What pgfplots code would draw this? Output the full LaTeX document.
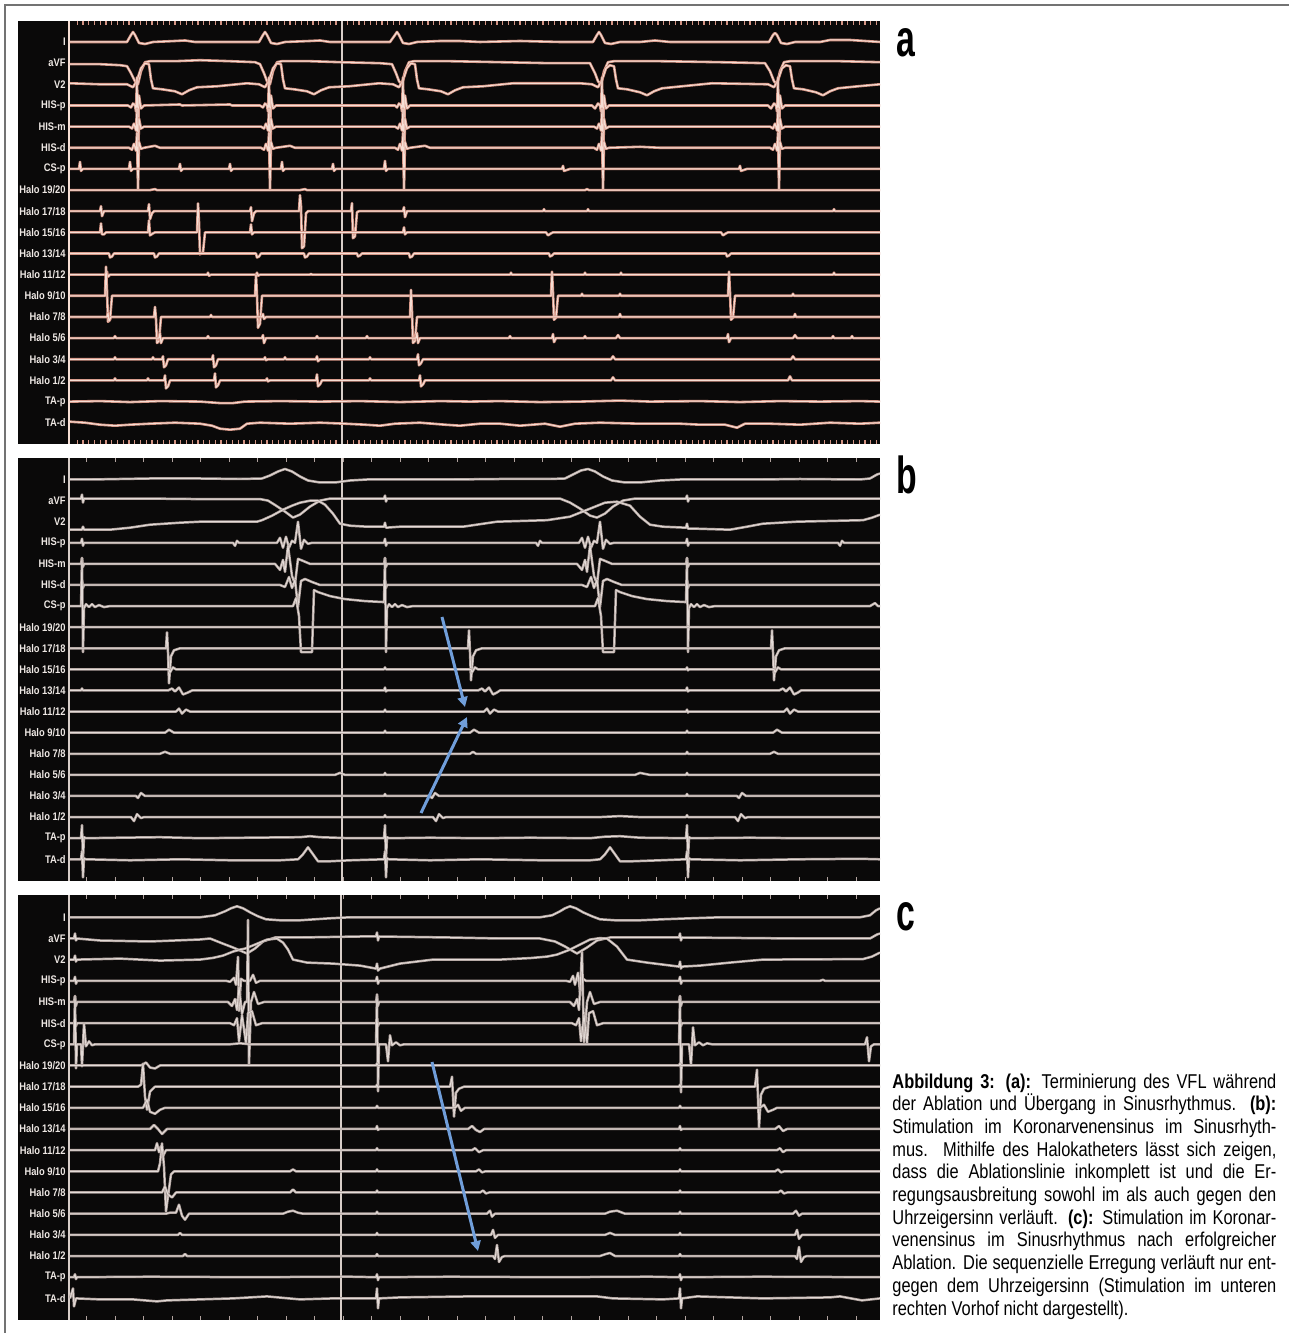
\documentclass[border=0pt]{standalone}
\usepackage{pgfplots}
\pgfplotsset{compat=1.18}
\usetikzlibrary{arrows.meta}
\usepackage{fontspec}
\setmainfont{Liberation Sans}
\newfontfamily\cond[FakeStretch=0.82]{Liberation Sans}
\newfontfamily\condlab[FakeStretch=0.85]{Liberation Sans}
\newfontfamily\condbig[FakeStretch=0.65]{Liberation Sans}
\definecolor{bgc}{RGB}{10,9,9}
\definecolor{aout}{RGB}{212,148,132}
\definecolor{ain}{RGB}{246,222,212}
\definecolor{bout}{RGB}{178,164,160}
\definecolor{bin}{RGB}{228,220,216}
\definecolor{vl}{RGB}{215,205,200}
\definecolor{arrowc}{RGB}{112,158,218}
\definecolor{framec}{RGB}{115,115,115}
\definecolor{labc}{RGB}{238,232,228}
\pgfplotsset{
  tr/.style={y filter/.expression={y-#1}},
  ta/.style={draw=ain, line width=0.5pt, line join=round, preaction={draw=aout, line width=1.3pt, line join=round}},
  tb/.style={draw=bin, line width=0.45pt, line join=round, preaction={draw=bout, line width=1.25pt, line join=round}},
  panel/.style={anchor=south west, scale only axis, width=431pt, xmin=18, xmax=880,
    axis line style={draw=none}, axis background/.style={fill=bgc}, ytick=\empty,
    xticklabels={}, tick align=inside, major tick length=2pt},
}
\begin{document}
\begin{tikzpicture}
\useasboundingbox (0,0) rectangle (644.5pt,666.5pt);
% ================= PANEL A =================
\begin{axis}[panel, at={(9pt,444.5pt)}, height=211.5pt, ymin=-444, ymax=-21,
  xtick={77.3,83.05,...,880}, tick style={draw=aout, line width=0.6pt}]
\addplot[draw=ain, line width=0.8pt] coordinates {(69,-21) (69,-444)};
\addplot[draw=vl, line width=0.7pt] coordinates {(342,-21) (342,-444)};
% I
\addplot[ta,tr=42] coordinates {(70,0) (120,0) (127,0) (131,7) (133,10) (135,7) (139,-1) (145,-2) (153,0) (175,1) (185,1.5) (195,0) (230,0) (259,0) (263,7) (265,10) (267,7) (271,-1) (277,-2) (285,0) (310,1) (320,1.5) (330,0) (390,0) (395,7) (397,10) (399,7) (403,-1) (409,-2) (417,0) (440,1) (460,1) (480,0) (520,1) (560,0) (593,0) (597,7) (599,10) (601,7) (605,-1) (611,-2) (620,0) (640,0) (655,1.5) (670,0) (720,0) (769,0) (773,7) (775,9) (777,7) (781,-1) (787,-2) (795,0) (820,0) (830,2) (850,2) (880,0)};
% aVF
\addplot[ta,tr=63.2] coordinates {(70,-1) (100,-1) (120,-2) (127,-3) (131,-10) (135,-18) (138,-21) (141,-8) (145,1) (150,2) (175,2) (200,3) (230,2) (255,1) (260,-1) (264,-10) (267,-18) (270,-21) (273,-8) (277,1) (282,2) (310,2) (340,1) (380,0) (392,-1) (396,-10) (399,-18) (402,-21) (405,-8) (409,1) (414,2) (450,2) (500,1) (550,0) (590,0) (595,-10) (598,-18) (601,-21) (604,-8) (608,1) (614,2) (660,2) (720,1) (765,0) (770,-8) (774,-18) (777,-21) (780,-8) (784,1) (790,2) (840,2) (880,1)};
% V2
\addplot[ta,tr=84.3] coordinates {(70,1) (100,0) (127,0) (133,-3) (137,4) (141,16) (145,21) (149,20) (151,5) (153,-4) (162,-5) (175,-7) (182,-10) (189,-6) (197,-3) (217,-2) (247,1) (259,0) (265,-3) (269,4) (273,16) (277,21) (281,20) (283,5) (285,-4) (294,-5) (307,-7) (314,-10) (321,-6) (329,-3) (349,-2) (379,1) (393,0) (399,-3) (403,4) (407,16) (411,21) (415,20) (417,5) (419,-4) (428,-5) (441,-7) (448,-10) (455,-6) (463,-3) (483,-2) (513,1) (550,1) (580,1) (592,0) (598,-3) (602,4) (606,16) (610,19) (614,18) (616,5) (618,-4) (627,-5) (640,-8) (647,-11) (654,-7) (662,-4) (682,-2) (712,1) (768,0) (774,-3) (778,4) (782,16) (786,19) (790,18) (792,5) (794,-4) (803,-5) (816,-8) (823,-11) (830,-7) (838,-4) (858,-2) (880,0)};
% HIS-p
\addplot[ta,tr=105.5] coordinates {(70,0) (100,0) (128,0) (131,-2) (133,2) (135,0) (136,-6) (137,28) (138,-34) (139,10) (141,-3) (144,0) (180,1) (182,0) (230,1) (232,0) (260,0) (263,-2) (265,2) (267,0) (268,-6) (269,28) (270,-34) (271,10) (273,-3) (276,0) (320,0) (395,0) (397,-2) (399,2) (401,0) (402,-6) (403,28) (404,-34) (405,10) (407,-3) (410,0) (500,0) (592,0) (595,-3) (598,2) (600,0) (601,-6) (602,28) (603,-34) (604,10) (606,-3) (609,0) (680,0) (768,0) (771,-3) (774,2) (776,0) (777,-6) (778,28) (779,-34) (780,10) (782,-3) (785,0) (880,0)};
% HIS-m
\addplot[ta,tr=126.6] coordinates {(70,0) (129,0) (132,-2) (134,3) (136,-4) (137,18) (138,-45) (139,8) (141,-2) (144,0) (261,0) (264,-2) (266,3) (268,-4) (269,18) (270,-45) (271,8) (273,-2) (276,0) (395,0) (398,-2) (400,3) (402,-4) (403,18) (404,-45) (405,8) (407,-2) (410,0) (594,0) (597,-2) (599,3) (601,-4) (602,18) (603,-45) (604,8) (606,-2) (609,0) (770,0) (773,-2) (775,3) (777,-4) (778,18) (779,-45) (780,8) (782,-2) (785,0) (880,0)};
% HIS-d
\addplot[ta,tr=147.8] coordinates {(70,0) (129,0) (132,-2) (134,4) (136,-3) (137,15) (138,-42) (139,6) (141,-1) (144,0) (155,2) (160,0) (261,0) (264,-2) (266,4) (268,-3) (269,15) (270,-42) (271,6) (273,-1) (276,0) (290,2) (295,0) (395,0) (398,-2) (400,4) (402,-3) (403,15) (404,-42) (405,6) (407,-1) (410,0) (425,2) (430,0) (594,0) (597,-2) (599,4) (601,-3) (602,15) (603,-42) (604,6) (606,-1) (609,0) (640,1) (660,0) (770,0) (773,-2) (775,4) (777,-3) (778,15) (779,-42) (780,6) (782,-1) (785,0) (880,0)};
% CS-p
\addplot[ta,tr=168.9] coordinates {(70,0) (79,0) (80,7) (81,-2) (83,0) (129,0) (130,7) (131,-2) (133,0) (179,0) (180,5) (181,-2) (183,0) (229,0) (230,5) (231,-2) (233,0) (281,0) (282,7) (283,-2) (285,0) (332,0) (333,5) (334,-2) (336,0) (384,0) (385,8) (386,-2) (388,0) (562,0) (563,3) (564,-2) (567,-1) (570,0) (739,0) (740,3) (741,-2) (744,-1) (747,0) (880,0)};
% Halo 19/20
\addplot[ta,tr=190.1] coordinates {(70,0) (150,0) (155,1) (157,0) (300,0) (305,1) (307,0) (585,0) (587,1) (589,0) (880,0)};
% Halo 17/18
\addplot[ta,tr=211.2] coordinates {(70,0) (100,0) (101,5) (102,-5) (104,0) (148,0) (149,7) (150,-8) (152,-2) (154,0) (250,0) (251,4) (252,-10) (254,-2) (256,0) (299,0) (300,16) (301,5) (302,-37) (304,-35) (306,-2) (308,0) (351,0) (352,8) (353,-27) (355,-25) (357,-1) (359,0) (403,0) (404,4) (405,-6) (407,0) (543,0) (544,2) (545,0) (587,0) (588,2) (589,0) (833,0) (834,2) (835,0) (880,0)};
% Halo 15/16
\addplot[ta,tr=232.4] coordinates {(70,0) (100,0) (101,9) (102,-2) (104,-2) (106,0) (148,0) (149,12) (150,-3) (153,-1) (155,0) (197,0) (198,29) (199,10) (200,-22) (203,-20) (205,0) (250,0) (251,8) (252,-2) (254,0) (403,0) (404,5) (405,-2) (407,0) (546,0) (548,-3) (551,-1) (553,0) (721,0) (723,-3) (726,-1) (728,0) (880,0)};
% Halo 13/14
\addplot[ta,tr=253.5] coordinates {(70,0) (109,0) (110,-4) (112,-3) (114,0) (154,0) (155,-4) (157,-3) (159,0) (256,0) (257,-4) (259,-3) (261,0) (304,0) (305,-4) (307,-3) (309,0) (357,0) (358,-3) (360,-2) (362,0) (409,0) (410,-4) (412,-3) (414,0) (549,0) (550,-3) (552,-2) (554,0) (726,0) (727,-3) (729,-2) (731,0) (880,0)};
% Halo 11/12
\addplot[ta,tr=274.7] coordinates {(70,0) (106,0) (107,3) (108,-2) (110,0) (207,0) (208,2) (209,-1) (211,0) (256,0) (257,2) (258,-1) (260,0) (310,0) (311,1) (312,0) (510,0) (511,2) (512,0) (584,0) (585,2) (586,0) (620,0) (621,2) (622,0) (833,0) (834,2) (835,0) (880,0)};
% Halo 9/10
\addplot[ta,tr=295.8] coordinates {(70,0) (105,0) (106,29) (107,5) (108,-26) (110,-24) (112,0) (255,0) (256,21) (257,0) (258,-32) (260,-28) (262,0) (551,0) (552,24) (553,3) (554,-24) (556,-22) (558,0) (581,0) (582,2) (583,0) (619,0) (620,2) (621,0) (728,0) (729,24) (730,3) (731,-24) (733,-22) (735,0) (792,0) (793,2) (794,0) (880,0)};
% Halo 7/8
\addplot[ta,tr=317] coordinates {(70,0) (107,0) (108,4) (109,-4) (111,0) (154,0) (155,10) (156,-2) (157,-26) (159,-24) (161,0) (210,0) (211,2) (212,0) (262,0) (263,3) (264,-2) (266,0) (410,0) (411,27) (412,5) (413,-26) (415,-24) (417,0) (619,0) (620,3) (621,0) (794,0) (795,3) (796,0) (880,0)};
% Halo 5/6
\addplot[ta,tr=338.1] coordinates {(70,0) (114,0) (115,2) (116,0) (159,0) (160,5) (161,-5) (163,0) (207,0) (208,2) (209,0) (262,0) (263,3) (264,-5) (266,0) (316,0) (317,2) (318,0) (366,0) (367,2) (368,0) (416,0) (417,5) (418,-5) (420,0) (509,0) (510,2) (511,0) (552,0) (553,4) (554,-4) (556,0) (584,0) (585,2) (586,0) (616,0) (618,3) (620,0) (727,0) (728,4) (729,-4) (731,0) (793,0) (795,3) (797,0) (832,0) (833,2) (834,0) (851,0) (852,2) (853,0) (880,0)};
% Halo 3/4
\addplot[ta,tr=359.3] coordinates {(70,0) (114,0) (115,2) (116,0) (152,0) (153,2) (154,0) (162,0) (163,3) (164,-8) (166,-6) (168,0) (212,0) (213,4) (214,-8) (216,-6) (218,0) (264,0) (265,2) (266,-1) (268,0) (284,0) (285,2) (286,0) (316,0) (317,3) (318,-2) (320,0) (369,0) (370,2) (371,0) (417,0) (418,5) (419,-6) (421,-4) (423,0) (611,0) (613,3) (615,0) (791,0) (793,3) (795,0) (880,0)};
% Halo 1/2
\addplot[ta,tr=380.4] coordinates {(70,0) (114,0) (115,2) (116,0) (147,0) (148,2) (149,0) (164,0) (165,5) (166,-8) (168,-6) (170,0) (214,0) (215,7) (216,-7) (218,-5) (220,0) (266,0) (267,2) (268,-1) (270,0) (316,0) (317,6) (318,-6) (320,-4) (322,0) (369,0) (370,2) (371,0) (419,0) (420,5) (421,-6) (423,-4) (425,0) (611,0) (613,3) (615,0) (788,0) (790,4) (792,0) (880,0)};
% TA-p
\addplot[ta,tr=401.6] coordinates {(70,0) (100,0.5) (130,-0.5) (160,0.5) (200,0) (220,-1.5) (233,-1.5) (245,0) (280,0.5) (320,0) (360,0.5) (400,-0.5) (440,0.5) (470,0) (500,0.5) (540,-0.5) (580,0) (620,1) (650,0) (700,0.5) (740,-0.5) (780,0.5) (820,0) (860,0.5) (880,0)};
% TA-d
\addplot[ta,tr=422.7] coordinates {(70,1) (85,0) (100,-2) (115,-3) (130,-2) (150,-1) (175,0) (200,-1) (212,-3) (220,-6) (230,-7) (240,-6) (247,-1) (260,0) (290,-1) (320,0) (345,-1) (365,-2) (380,-3) (395,-1) (420,0) (445,-2) (460,-3) (480,-1) (500,-1) (520,-3) (545,-1) (560,-4) (575,-1) (600,0) (640,-1) (680,-1) (700,-2) (725,-2) (737,-5) (745,-1) (770,-1) (800,-2) (830,0) (860,-1) (880,0)};
\end{axis}
% ================= PANEL B =================
\begin{axis}[panel, at={(9pt,226pt)}, height=211.5pt, ymin=-881, ymax=-458,
  xtick={86.7,115.2,...,880}, tick style={draw=bout, line width=0.7pt}]
\addplot[draw=vl, line width=0.8pt] coordinates {(69,-458) (69,-881)};
\addplot[draw=vl, line width=0.7pt] coordinates {(342,-458) (342,-881)};
% I
\addplot[tb,tr=479.5] coordinates {(70,0) (90,0) (150,1) (200,1) (240,0.5) (262,1) (270,4) (278,8) (285,10.5) (292,8) (300,3) (308,-1) (320,-3) (335,-3) (350,-1) (367,0) (450,0) (500,0.5) (550,0.5) (565,1) (573,5) (581,9) (588,10.5) (595,8) (603,3) (612,-1) (625,-3) (640,-3) (660,-1) (680,0) (760,0) (800,0.5) (860,0) (870,1) (877,5) (880,6)};
% aVF
\addplot[tb,tr=500.6] coordinates {(70,2) (81,2) (82,6) (83,-2) (84,2) (150,2) (200,1.5) (260,1.5) (268,0) (276,-5) (285,-11) (293,-17) (300,-14) (310,-6) (320,0) (330,2) (384,2) (385,5) (386,-1) (387,2) (450,2) (560,2) (570,-2) (580,-8) (590,-15) (597,-17) (605,-13) (613,-6) (623,0) (635,2) (686,2) (687,5) (688,-1) (689,2) (800,2) (880,2)};
% V2
\addplot[tb,tr=521.7] coordinates {(70,-8) (82,-8) (83,-5) (84,-8) (110,-8) (130,-6) (150,-3) (180,-1) (200,0) (257,0) (262,1.5) (272,6) (283,12) (292,16) (300,19) (310,21) (318,21) (325,17) (333,8) (340,-2) (350,-4) (367,-5) (384,-5) (385,-1) (386,-6) (400,-5) (430,-5) (463,-5) (497,0) (547,1.5) (570,5) (580,9) (590,13) (605,19) (617,20) (630,16) (640,5) (650,-3) (663,-5) (686,-6) (687,-2) (688,-7) (697,-7) (730,-8) (747,-5) (763,-2) (797,0) (863,1.5) (872,4) (880,7)};
% HIS-p
\addplot[tb,tr=542.8] coordinates {(70,0) (81,0) (82,4) (83,-3) (84,0) (233,0) (235,-3) (237,2) (239,0) (277,0) (280,5) (283,-5) (286,6) (289,-5) (292,2) (295,0) (298,21) (301,-6) (304,3) (308,-1) (312,0) (384,0) (385,4) (386,-3) (387,0) (536,0) (538,-3) (540,2) (542,0) (579,0) (582,5) (585,-5) (588,6) (591,-5) (594,2) (597,0) (600,21) (603,-6) (606,3) (610,-1) (614,0) (686,0) (687,4) (688,-3) (689,0) (838,0) (840,-3) (842,2) (844,0) (880,0)};
% HIS-m
\addplot[tb,tr=563.9] coordinates {(70,0) (81,0) (82,6) (83,-3) (84,0) (275,0) (280,-6) (283,4) (285,-8) (288,18) (292,-12) (295,-20) (298,5) (303,3) (310,0) (384,0) (385,6) (386,-3) (387,0) (577,0) (582,-6) (585,4) (587,-8) (590,18) (594,-12) (597,-20) (600,5) (605,3) (612,0) (686,0) (687,6) (688,-3) (689,0) (880,0)};
% HIS-d
\addplot[tb,tr=585] coordinates {(70,0) (81,0) (82,5) (83,-3) (84,0) (280,0) (285,-2) (289,8) (292,-3) (295,5) (298,-22) (301,4) (305,6) (312,3) (320,0) (384,0) (385,5) (386,-3) (387,0) (582,0) (587,-2) (591,8) (594,-3) (597,5) (600,-22) (603,4) (607,6) (614,3) (622,0) (686,0) (687,5) (688,-3) (689,0) (880,0)};
% CS-p
\addplot[tb,tr=606.1] coordinates {(70,0) (81,0) (82,48) (83,-46) (84,-2) (86,2) (89,-1) (92,2) (95,-1) (99,1) (104,-1) (110,0) (150,0) (200,0) (270,0) (293,0) (296,8) (299,-10) (301,-46) (312,-46) (314,16) (318,14) (330,10) (345,7) (365,5) (384,4) (385,48) (386,-46) (387,-2) (389,2) (392,-1) (395,2) (398,-1) (402,1) (407,-1) (413,0) (450,0) (500,0) (595,0) (598,8) (601,-10) (603,-46) (614,-46) (616,16) (620,14) (632,10) (647,7) (667,5) (686,4) (687,48) (688,-46) (689,-2) (691,2) (694,-1) (697,2) (700,-1) (704,1) (709,-1) (715,0) (800,0) (870,0) (875,3) (878,0) (880,0)};
% Halo 19/20
\addplot[tb,tr=627.2] coordinates {(70,0) (82,0) (83,1) (84,0) (385,0) (386,1) (387,0) (687,0) (688,1) (689,0) (880,0)};
% Halo 17/18
\addplot[tb,tr=648.3] coordinates {(70,0) (166,0) (167,16) (168,-4) (169,-35) (171,-8) (174,-2) (180,0) (468,0) (469,18) (470,-4) (471,-32) (473,-8) (476,-2) (482,0) (771,0) (772,18) (773,-4) (774,-32) (776,-8) (779,-2) (785,0) (880,0)};
% Halo 15/16
\addplot[tb,tr=669.4] coordinates {(70,0) (169,0) (170,-3) (173,2) (176,0) (384,0) (385,2) (386,0) (471,0) (472,-3) (475,2) (478,0) (686,0) (687,2) (688,-1) (689,0) (774,0) (775,-3) (778,2) (781,0) (880,0)};
% Halo 13/14
\addplot[tb,tr=690.5] coordinates {(70,0) (81,0) (82,2) (83,0) (168,0) (172,2) (175,-1) (179,3) (183,-4) (188,-2) (192,0) (384,0) (385,3) (386,-1) (387,0) (478,0) (482,2) (485,-1) (489,3) (493,-4) (497,-2) (500,0) (686,0) (687,3) (688,-1) (689,0) (779,0) (783,2) (786,-1) (790,3) (794,-4) (798,-2) (801,0) (880,0)};
% Halo 11/12
\addplot[tb,tr=711.6] coordinates {(70,0) (176,0) (179,3) (182,-2) (186,2) (190,0) (384,0) (385,2) (386,0) (484,0) (487,3) (490,-2) (494,2) (498,0) (686,0) (687,2) (688,-1) (689,0) (784,0) (787,3) (790,-2) (794,2) (798,0) (880,0)};
% Halo 9/10
\addplot[tb,tr=732.7] coordinates {(70,0) (165,0) (169,3) (174,0) (384,0) (385,2) (386,0) (470,0) (474,3) (479,0) (686,0) (687,2) (688,0) (773,0) (777,3) (782,0) (880,0)};
% Halo 7/8
\addplot[tb,tr=753.8] coordinates {(70,0) (160,0) (165,2) (170,0) (470,0) (473,2) (476,0) (686,0) (687,2) (688,0) (770,0) (774,2) (778,0) (880,0)};
% Halo 5/6
\addplot[tb,tr=774.9] coordinates {(70,0) (335,0) (340,2) (345,0) (384,0) (385,2) (386,0) (635,0) (640,2) (645,1) (650,0) (686,0) (687,2) (688,0) (880,0)};
% Halo 3/4
\addplot[tb,tr=796] coordinates {(70,0) (136,0) (138,-2) (141,3) (145,0) (384,0) (385,2) (386,0) (430,0) (432,-2) (435,3) (439,0) (686,0) (687,2) (688,0) (737,0) (739,-2) (742,3) (746,0) (880,0)};
% Halo 1/2
\addplot[tb,tr=817.1] coordinates {(70,0) (131,0) (134,-4) (137,3) (141,-1) (144,0) (384,0) (385,2) (386,0) (433,0) (436,-4) (439,3) (443,-1) (446,0) (600,0) (620,1) (640,0) (686,0) (687,2) (688,0) (735,0) (738,-4) (741,3) (745,-1) (748,0) (880,0)};
% TA-p
\addplot[tb,tr=838.2] coordinates {(70,0) (81,0) (82,13) (83,-21) (84,1) (86,0) (120,0.5) (160,1) (200,0) (250,0.5) (300,1) (310,2) (320,1) (350,0) (384,0) (385,13) (386,-21) (387,1) (389,0) (430,0.5) (480,0) (530,0.5) (590,0) (605,1.5) (620,2) (640,0.5) (686,0) (687,13) (688,-21) (689,1) (691,0) (750,0.5) (800,0) (880,0)};
% TA-d
\addplot[tb,tr=859.3] coordinates {(70,0) (81,0) (82,8) (83,-18) (84,1) (86,0) (130,-1) (180,0) (230,-1) (280,-1) (298,0) (303,5) (308,12) (313,5) (318,-2) (330,-2) (350,-1) (384,0) (385,8) (386,-18) (387,1) (389,0) (430,-1) (480,0) (540,-1) (590,-1) (600,0) (605,5) (610,12) (615,5) (620,-2) (632,-2) (660,-1) (686,0) (687,8) (688,-18) (689,1) (691,0) (740,-1) (800,0) (860,0.5) (880,0)};
% arrows
\addplot[draw=arrowc, line width=1.5pt, -{Triangle[length=5pt,width=5pt]}] coordinates {(442,-617) (465,-707)};
\addplot[draw=arrowc, line width=1.5pt, -{Triangle[length=5pt,width=5pt]}] coordinates {(421,-813) (467,-717)};
\end{axis}
% ================= PANEL C =================
\begin{axis}[panel, at={(9pt,6.5pt)}, height=212.5pt, ymin=-1320, ymax=-895,
  xtick={86.7,115.2,...,880}, tick style={draw=bout, line width=0.7pt}]
\addplot[draw=vl, line width=0.8pt] coordinates {(69,-895) (69,-1320)};
\addplot[draw=vl, line width=0.7pt] coordinates {(341,-895) (341,-1320)};
% I
\addplot[tb,tr=917.3] coordinates {(70,0) (200,0) (215,2) (225,6) (231,9) (237,11) (243,9) (250,5) (258,1) (266,-2) (280,-3) (300,-3) (330,-1) (350,0) (540,0) (552,2) (560,6) (565,9) (570,11) (576,9) (583,5) (592,1) (600,-2) (615,-3) (640,-3) (663,-2) (690,-1) (720,0) (860,0) (870,2) (876,7) (880,9)};
% aVF
\addplot[tb,tr=938.5] coordinates {(70,0) (74,0) (75,5) (76,-2) (77,0) (100,-2) (150,-3) (200,-1) (210,0) (220,-4) (233,-9) (247,-15) (255,-10) (263,-3) (275,1) (300,1) (360,2) (376,2) (377,6) (378,-2) (379,2) (450,1) (500,0) (540,0) (555,-3) (565,-8) (577,-15) (587,-9) (597,-2) (610,1) (679,1) (680,5) (681,-2) (682,1) (800,0) (870,0) (877,4) (880,5)};
% V2
\addplot[tb,tr=959.6] coordinates {(70,0) (74,0) (75,4) (76,-2) (77,0) (120,1) (160,-1) (200,0) (213,1.7) (223,4) (233,8) (240,10) (245,11) (255,15) (267,20) (277,21) (283,17) (288,10) (293,0) (307,-3) (333,-4) (360,-6) (376,-9) (377,-4) (378,-11) (380,-9) (400,-4) (433,0) (500,0) (530,1.5) (547,3) (557,5) (570,10) (580,15) (590,20) (600,21.5) (607,21) (617,13) (627,0) (647,-3) (679,-7) (680,-2) (681,-9) (682,-7) (700,-6) (730,-3) (763,0) (863,0.5) (872,3) (880,7)};
% HIS-p
\addplot[tb,tr=980.8] coordinates {(70,0) (74,0) (75,4) (76,-3) (77,0) (226,0) (230,-1) (234,3) (236,-4) (238,24) (239,-30) (241,2) (244,0) (250,0) (253,6) (256,-2) (260,0) (376,0) (377,4) (378,-3) (379,0) (566,0) (570,-1) (573,5) (575,-4) (578,8) (580,-11) (583,2) (586,0) (679,0) (680,4) (681,-3) (682,0) (820,0) (823,1) (825,0) (880,0)};
% HIS-m
\addplot[tb,tr=1002] coordinates {(70,0) (74,0) (75,6) (76,-4) (77,0) (228,0) (232,-4) (235,3) (237,-8) (239,15) (242,-12) (245,0) (247,0) (248,82) (249,-63) (251,0) (254,10) (258,-2) (264,0) (376,0) (377,6) (378,-4) (379,0) (570,0) (574,-4) (577,3) (579,-8) (582,50) (584,-40) (587,0) (590,10) (594,-2) (600,0) (679,0) (680,6) (681,-4) (682,0) (880,0)};
% HIS-d
\addplot[tb,tr=1023.2] coordinates {(70,0) (74,0) (75,4) (76,-3) (77,0) (230,0) (234,-2) (237,5) (239,-18) (242,8) (246,-20) (248,10) (252,12) (256,-2) (262,0) (376,0) (377,4) (378,-3) (379,0) (572,0) (576,-2) (579,5) (581,-18) (584,8) (587,-20) (589,10) (593,12) (597,-2) (603,0) (679,0) (680,4) (681,-3) (682,0) (880,0)};
% CS-p
\addplot[tb,tr=1044.3] coordinates {(70,0) (74,0) (75,48) (76,-24) (77,0) (81,0) (82,-22) (84,21) (86,-2) (89,3) (92,-1) (95,0) (150,0) (230,0) (240,1) (250,0) (376,0) (377,50) (378,-47) (379,0) (386,0) (388,-17) (390,9) (392,-1) (396,2) (400,-1) (404,0) (679,0) (680,48) (681,-48) (682,0) (689,0) (691,-21) (693,17) (695,-1) (699,2) (703,-1) (707,1) (712,0) (865,0) (867,7) (869,-17) (871,-2) (874,0) (880,0)};
% Halo 19/20
\addplot[tb,tr=1065.5] coordinates {(70,0) (140,0) (143,1) (146,3) (150,-2) (155,-3) (160,0) (376,0) (377,2) (378,0) (679,0) (680,2) (681,0) (880,0)};
% Halo 17/18
\addplot[tb,tr=1086.7] coordinates {(70,0) (138,0) (141,2) (143,23) (145,-10) (147,-23) (150,-5) (155,0) (376,0) (377,2) (378,-1) (379,0) (450,0) (452,10) (454,-30) (456,-6) (459,-2) (464,0) (679,0) (680,2) (681,-1) (682,0) (755,0) (757,17) (759,-41) (761,-8) (764,-2) (770,0) (880,0)};
% Halo 15/16
\addplot[tb,tr=1107.8] coordinates {(70,0) (143,0) (147,8) (150,-4) (155,-6) (160,-2) (165,0) (376,0) (377,2) (378,0) (455,0) (458,3) (461,-3) (465,0) (679,0) (680,2) (681,0) (760,0) (764,3) (768,-4) (773,-2) (777,0) (880,0)};
% Halo 13/14
\addplot[tb,tr=1129] coordinates {(70,0) (150,0) (154,4) (158,0) (162,-5) (167,0) (376,0) (377,3) (378,-1) (379,0) (468,0) (472,3) (476,-1) (480,-3) (484,0) (679,0) (680,3) (681,-1) (682,0) (775,0) (779,3) (783,-2) (787,0) (880,0)};
% Halo 11/12
\addplot[tb,tr=1150.2] coordinates {(70,0) (155,0) (157,7) (159,-2) (161,4) (163,-6) (166,0) (376,0) (377,2) (378,0) (472,0) (475,2) (479,-2) (483,0) (679,0) (680,2) (681,0) (777,0) (780,2) (783,-2) (786,0) (880,0)};
% Halo 9/10
\addplot[tb,tr=1171.4] coordinates {(70,0) (158,0) (160,8) (162,28) (164,5) (166,-40) (168,-25) (171,-3) (174,0) (290,0) (293,2) (296,0) (376,0) (377,2) (378,0) (476,0) (479,2) (482,-1) (485,0) (679,0) (680,2) (681,0) (775,0) (778,2) (781,-1) (784,0) (880,0)};
% Halo 7/8
\addplot[tb,tr=1192.5] coordinates {(70,0) (162,0) (165,6) (168,-2) (172,-5) (176,0) (290,0) (293,3) (296,0) (376,0) (377,2) (378,0) (480,0) (483,2) (486,-1) (489,0) (679,0) (680,2) (681,0) (778,0) (781,2) (784,-1) (787,0) (880,0)};
% Halo 5/6
\addplot[tb,tr=1213.7] coordinates {(70,0) (166,0) (170,1) (176,1) (179,9) (182,-2) (185,-6) (189,0) (283,0) (288,2) (293,3) (298,1) (303,0) (376,0) (377,2) (378,0) (487,0) (490,3) (492,-3) (495,0) (605,0) (610,2) (617,3) (625,0) (679,0) (680,2) (681,0) (793,0) (796,3) (799,-2) (802,0) (880,0)};
% Halo 3/4
\addplot[tb,tr=1234.9] coordinates {(70,0) (178,0) (180,2) (182,0) (376,0) (377,2) (378,0) (491,0) (493,5) (495,-3) (498,0) (605,0) (610,2) (615,0) (679,0) (680,2) (681,0) (795,0) (797,5) (799,-4) (802,0) (880,0)};
% Halo 1/2
\addplot[tb,tr=1256] coordinates {(70,0) (183,0) (185,2) (187,0) (376,0) (377,2) (378,0) (493,0) (495,-3) (497,11) (499,-6) (502,-1) (505,0) (600,0) (606,2) (610,3) (615,0) (679,0) (680,2) (681,0) (795,0) (797,-3) (799,9) (801,-6) (804,-1) (807,0) (880,0)};
% TA-p
\addplot[tb,tr=1277.2] coordinates {(70,0) (74,0) (75,3) (76,-2) (77,0) (150,0.5) (250,0) (350,0.5) (376,0) (377,3) (378,-3) (379,0) (450,0.5) (550,0) (650,0.5) (679,0) (680,3) (681,-3) (682,0) (760,0.5) (880,0)};
% TA-d
\addplot[tb,tr=1298.4] coordinates {(70,0) (73,10) (74,-8) (76,0) (100,-1) (133,-1) (157,-3) (167,-2) (200,-1) (233,0) (267,2) (300,-1) (333,0) (376,0) (377,10) (378,-10) (379,0) (400,1) (470,2) (520,2) (597,2) (613,0) (663,-1) (679,0) (680,10) (681,-10) (682,0) (697,2) (763,0) (830,1) (840,2) (862,-2) (880,0)};
% arrow
\addplot[draw=arrowc, line width=1.5pt, -{Triangle[length=5pt,width=5pt]}] coordinates {(432,-1062) (478,-1251)};
\end{axis}
% ================= TEXT & FRAME =================
\begin{scope}[x=0.5pt,y=-0.5pt,shift={(0pt,666.5pt)}]
\draw[framec, line width=0.9pt] (5,1333) -- (5,5) -- (1289,5);
\foreach \lab [count=\i from 0] in {I,aVF,V2,HIS-p,HIS-m,HIS-d,CS-p,Halo 19/20,Halo 17/18,Halo 15/16,Halo 13/14,Halo 11/12,Halo 9/10,Halo 7/8,Halo 5/6,Halo 3/4,Halo 1/2,TA-p,TA-d}{
  \node[anchor=east, inner sep=0pt, text=labc, font=\condlab\bfseries\fontsize{5.5}{6}\selectfont] at (66,42+21.15*\i) {\lab};
  \node[anchor=east, inner sep=0pt, text=labc, font=\condlab\bfseries\fontsize{5.5}{6}\selectfont] at (66,479.5+21.1*\i) {\lab};
  \node[anchor=east, inner sep=0pt, text=labc, font=\condlab\bfseries\fontsize{5.5}{6}\selectfont] at (66,917.3+21.17*\i) {\lab};
}
\node[anchor=base west, inner sep=0pt, font=\condbig\bfseries\fontsize{26}{26}\selectfont] at (896,56.7) {a};
\node[anchor=base west, inner sep=0pt, font=\condbig\bfseries\fontsize{26}{26}\selectfont] at (896,493.5) {b};
\node[anchor=base west, inner sep=0pt, font=\condbig\bfseries\fontsize{26}{26}\selectfont] at (896,930.5) {c};
\node[anchor=base west, inner sep=0pt, align=left, font=\cond\fontsize{10}{11.35}\selectfont] at (892,1315) {%
\makebox[192pt][s]{\textbf{Abbildung 3: (a):} Terminierung des VFL während}\\
\makebox[192pt][s]{der Ablation und Übergang in Sinusrhythmus. \textbf{(b):}}\\
\makebox[192pt][s]{Stimulation im Koronarvenensinus im Sinusrhyth-}\\
\makebox[192pt][s]{mus. Mithilfe des Halokatheters lässt sich zeigen,}\\
\makebox[192pt][s]{dass die Ablationslinie inkomplett ist und die Er-}\\
\makebox[192pt][s]{regungsausbreitung sowohl im als auch gegen den}\\
\makebox[192pt][s]{Uhrzeigersinn verläuft. \textbf{(c):} Stimulation im Koronar-}\\
\makebox[192pt][s]{venensinus im Sinusrhythmus nach erfolgreicher}\\
\makebox[192pt][s]{Ablation. Die sequenzielle Erregung verläuft nur ent-}\\
\makebox[192pt][s]{gegen dem Uhrzeigersinn (Stimulation im unteren}\\
\makebox[192pt][l]{rechten Vorhof nicht dargestellt).}};
\end{scope}
\end{tikzpicture}
\end{document}
